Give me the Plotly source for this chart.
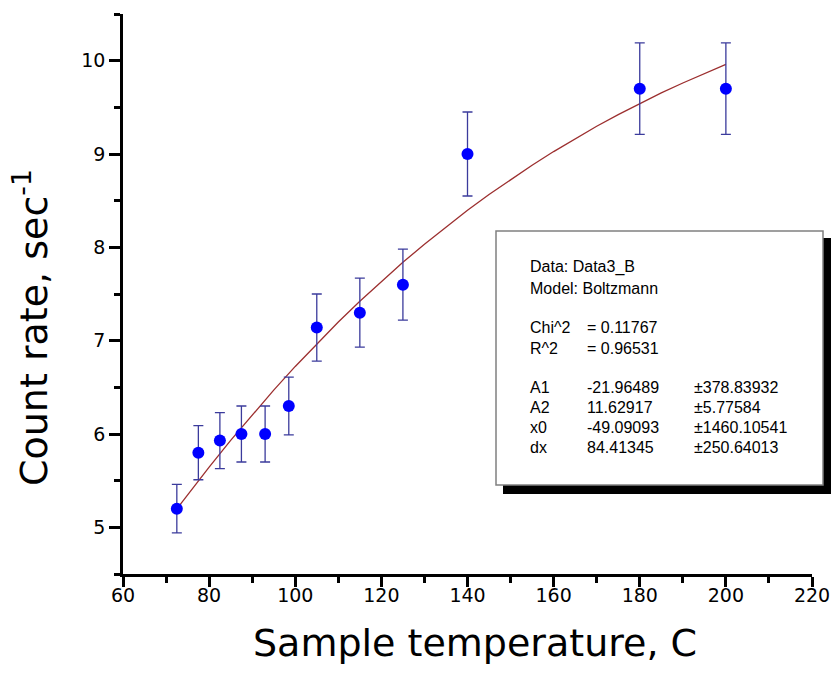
import plotly.graph_objects as go

# ---- data ----
temperature = [72.5, 77.5, 82.5, 87.5, 93.0, 98.5, 105.0, 115.0, 125.0, 140.0, 180.0, 200.0]
count_rate = [5.20, 5.80, 5.93, 6.00, 6.00, 6.30, 7.14, 7.30, 7.60, 9.00, 9.70, 9.70]
count_err = [0.26, 0.29, 0.30, 0.30, 0.30, 0.31, 0.36, 0.37, 0.38, 0.45, 0.49, 0.49]

# Boltzmann fit curve (as drawn in the reference)
fit_x = [72.5, 75, 80, 85, 90, 95, 100, 105, 110, 115, 120, 125, 130, 135, 140, 145, 150,
         155, 160, 165, 170, 175, 180, 185, 190, 195, 200]
fit_y = [5.197, 5.350, 5.646, 5.931, 6.206, 6.470, 6.724, 6.967, 7.200, 7.423, 7.636, 7.839,
         8.034, 8.220, 8.397, 8.566, 8.727, 8.880, 9.026, 9.164, 9.297, 9.422, 9.541, 9.654,
         9.761, 9.863, 9.960]

x_ticks = [60, 80, 100, 120, 140, 160, 180, 200, 220]
y_ticks = [5, 6, 7, 8, 9, 10]

box_col1 = ["Data: Data3_B", "Model: Boltzmann", "Chi^2", "R^2", "A1", "A2", "x0", "dx"]
box_col2 = ["", "", "= 0.11767", "= 0.96531", "-21.96489", "11.62917", "-49.09093", "84.41345"]
box_col3 = ["", "", "", "", "±378.83932", "±5.77584", "±1460.10541", "±250.64013"]

# ---- layout constants (pixels) ----
W, H = 833, 674
L, R, T, B = 123, 21, 14, 100
PW, PH = W - L - R, H - T - B


def px(x):
    return (x - L) / PW


def py(y):
    return (H - B - y) / PH


fig = go.Figure()

fig.add_trace(go.Scatter(
    x=fit_x, y=fit_y, mode="lines",
    line=dict(color="#9c2f2f", width=1.3),
    hoverinfo="skip", showlegend=False,
))

fig.add_trace(go.Scatter(
    x=temperature, y=count_rate, mode="markers",
    marker=dict(color="#0000ff", size=12),
    error_y=dict(type="data", array=count_err, visible=True,
                 color="#3b3b9c", thickness=1.3, width=5),
    showlegend=False,
))

axis_font = dict(family="DejaVu Sans", size=19, color="black")

fig.update_xaxes(
    range=[60, 220], tickvals=x_ticks, ticktext=[str(v) for v in x_ticks],
    showline=True, linecolor="black", linewidth=2.5, mirror=False,
    ticks="outside", ticklen=10, tickwidth=2.5, tickcolor="black",
    minor=dict(ticks="outside", ticklen=6, tickwidth=2.5, tickcolor="black", dtick=10, tick0=60),
    showgrid=False, zeroline=False, tickfont=axis_font, automargin=False,
    ticklabelstandoff=-8,
)
fig.update_yaxes(
    range=[4.5, 10.5], tickvals=y_ticks, ticktext=[str(v) for v in y_ticks],
    showline=True, linecolor="black", linewidth=2.5, mirror=False,
    ticks="outside", ticklen=11, tickwidth=2.5, tickcolor="black",
    minor=dict(ticks="outside", ticklen=6, tickwidth=2.5, tickcolor="black", dtick=0.5, tick0=4.5),
    showgrid=False, zeroline=False, tickfont=axis_font, ticklabelstandoff=0, automargin=False,
)

shapes = [
    # shadow
    dict(type="rect", xref="paper", yref="paper",
         x0=px(503), x1=px(831), y0=py(494), y1=py(238),
         fillcolor="black", line=dict(width=0), layer="above"),
    # box
    dict(type="rect", xref="paper", yref="paper",
         x0=px(496), x1=px(823), y0=py(485), y1=py(231),
         fillcolor="white", line=dict(color="#808080", width=1.5), layer="above"),
]

annotations = []
row_y = [267, 288, 327, 348, 387, 407, 427, 447]
box_font = dict(family="Liberation Sans, Arial", size=16, color="black")
for i, yy in enumerate(row_y):
    for col, xx in ((box_col1, 528), (box_col2, 585), (box_col3, 692)):
        if col[i]:
            annotations.append(dict(
                xref="paper", yref="paper", x=px(xx), y=py(yy),
                xanchor="left", yanchor="middle", showarrow=False,
                text=col[i], font=box_font,
            ))

title_font = dict(family="DejaVu Sans", size=38, color="black")
annotations.append(dict(
    xref="paper", yref="paper", x=px(475), y=py(643),
    xanchor="center", yanchor="middle", showarrow=False,
    text="Sample temperature, C", font=title_font,
))
annotations.append(dict(
    xref="paper", yref="paper", x=px(31), y=py(328),
    xanchor="center", yanchor="middle", showarrow=False, textangle=-90,
    text="Count rate, sec<sup>-1</sup>", font=title_font,
))

fig.update_layout(
    template="none",
    width=W, height=H,
    margin=dict(l=L, r=R, t=T, b=B, pad=0),
    paper_bgcolor="white", plot_bgcolor="white",
    shapes=shapes, annotations=annotations,
    showlegend=False,
)

fig.write_html(
    "out.html",
    config={"displayModeBar": False},
    post_script="document.body.style.margin='0';document.body.style.overflow='hidden';",
)
